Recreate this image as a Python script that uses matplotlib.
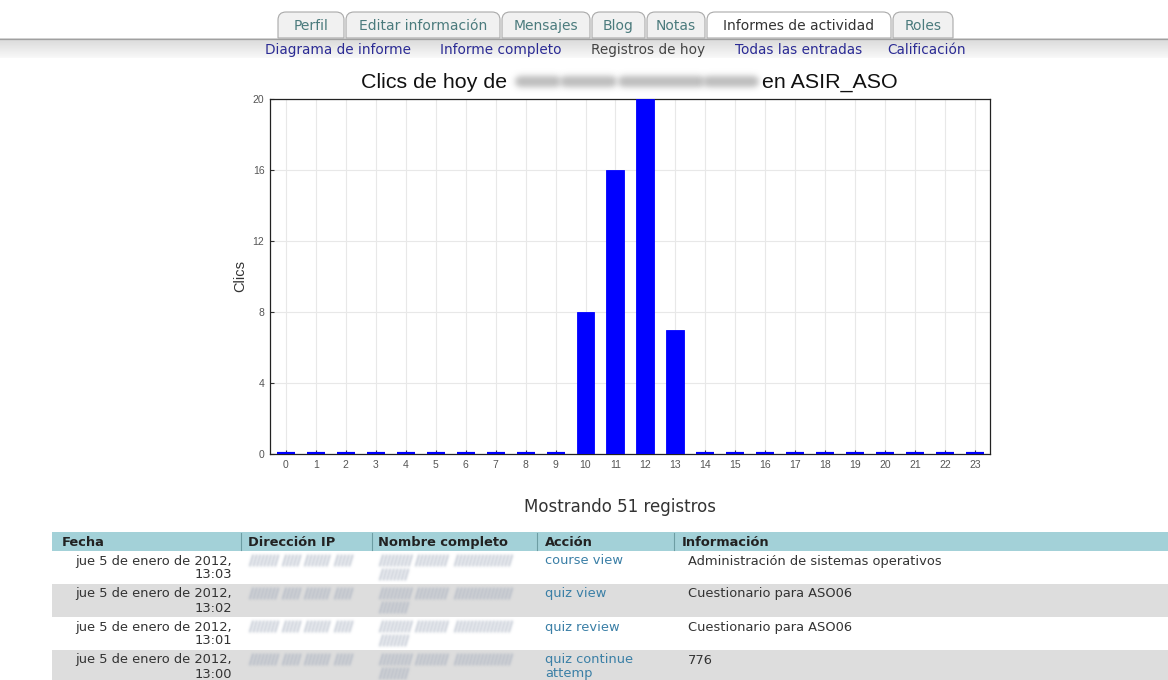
import numpy as np
import matplotlib
matplotlib.use("Agg")
import matplotlib.pyplot as plt
from matplotlib.patches import Rectangle, PathPatch
from matplotlib.path import Path

# ---------------- data ----------------
hours = list(range(24))
clicks = [0, 0, 0, 0, 0, 0, 0, 0, 0, 0, 8, 16, 20, 7, 0, 0, 0, 0, 0, 0, 0, 0, 0, 0]
y_ticks = [0, 4, 8, 12, 16, 20]
title_left = "Clics de hoy de"
title_right = "en ASIR_ASO"
y_label = "Clics"

tabs = ["Perfil", "Editar información", "Mensajes", "Blog", "Notas",
        "Informes de actividad", "Roles"]
active_tab = "Informes de actividad"
subtabs = ["Diagrama de informe", "Informe completo", "Registros de hoy",
           "Todas las entradas", "Calificación"]
current_subtab = "Registros de hoy"
summary = "Mostrando 51 registros"
columns = ["Fecha", "Dirección IP", "Nombre completo", "Acción", "Información"]
dates = ["jue 5 de enero de 2012,"] * 4
times = ["13:03", "13:02", "13:01", "13:00"]
actions = [["course view"], ["quiz view"], ["quiz review"], ["quiz continue", "attemp"]]
infos = ["Administración de sistemas operativos", "Cuestionario para ASO06",
         "Cuestionario para ASO06", "776"]

# ---------------- layout / style ----------------
W, H = 1168, 680
PAGE_FONT = "DejaVu Sans"
CHART_FONT = "Liberation Sans"

tab_x = [(278, 344), (346, 500), (502, 590), (592, 645), (647, 705), (707, 891), (893, 953)]
subtab_cx = [338, 501, 648, 799, 927]
col_sep = [241, 372, 537, 674]
col_text_x = [62, 248, 378, 545, 682]
table_x0 = 52
header_y = (532, 551)
row_tops = [551, 584, 617, 650]
row_h = 33


class Blur:
    """agg filter: gaussian blur of the alpha channel, single colour."""
    def __init__(self, sigma, color, alpha=1.0):
        self.sigma = sigma
        self.color = matplotlib.colors.to_rgb(color)
        self.alpha = alpha

    def __call__(self, im, dpi):
        pad = int(np.ceil(3 * self.sigma))
        a = np.pad(im[:, :, 3], pad)
        k = np.exp(-0.5 * (np.arange(-pad, pad + 1) / self.sigma) ** 2)
        k /= k.sum()
        a = np.apply_along_axis(lambda r: np.convolve(r, k, mode="same"), 1, a)
        a = np.apply_along_axis(lambda c: np.convolve(c, k, mode="same"), 0, a)
        out = np.zeros(a.shape + (4,))
        out[..., :3] = self.color
        out[..., 3] = np.clip(a * self.alpha, 0, 1)
        return out, -pad, -pad


fig = plt.figure(figsize=(W / 100, H / 100), dpi=100)
fig.patch.set_facecolor("white")

bg = fig.add_axes([0, 0, 1, 1], zorder=0)
bg.set_xlim(0, W)
bg.set_ylim(H, 0)
bg.axis("off")


def top_rounded(x0, x1, y0, y1, r):
    verts = [(x0, y1), (x0, y0 + r), (x0, y0), (x0 + r, y0), (x1 - r, y0),
             (x1, y0), (x1, y0 + r), (x1, y1), (x0, y1)]
    codes = [Path.MOVETO, Path.LINETO, Path.CURVE3, Path.CURVE3, Path.LINETO,
             Path.CURVE3, Path.CURVE3, Path.LINETO, Path.CLOSEPOLY]
    return Path(verts, codes)


# tabs
for name, (x0, x1) in zip(tabs, tab_x):
    act = name == active_tab
    bg.add_patch(PathPatch(top_rounded(x0, x1, 12, 38, 8),
                           facecolor="white" if act else "#f1f1f1",
                           edgecolor="#a9a9a9", lw=0.8, zorder=2))
    bg.text((x0 + x1) / 2, 30, name, ha="center", va="baseline", fontsize=10,
            family=PAGE_FONT, color="#333333" if act else "#4b7b7d", zorder=3)

# grey band under tabs
grad = np.linspace(0.85, 0.975, 40)[:, None] * np.ones((1, 2))
bg.imshow(np.dstack([grad, grad, grad]), extent=[0, W, 58, 38.5],
          aspect="auto", zorder=1, interpolation="bilinear")
bg.plot([0, W], [38.5, 38.5], color="#a0a0a0", lw=0.9, zorder=2)

for name, cx in zip(subtabs, subtab_cx):
    cur = name == current_subtab
    bg.text(cx, 54, name, ha="center", va="baseline", fontsize=9.8,
            family=PAGE_FONT, color="#444444" if cur else "#2b2b94", zorder=3)

# chart title with blurred name
bg.text(507, 88, title_left, ha="right", va="baseline", fontsize=15.4,
        family=CHART_FONT, color="#111111")
bg.text(762, 88, title_right, ha="left", va="baseline", fontsize=15.4,
        family=CHART_FONT, color="#111111")
for (a, b) in [(520, 555), (565, 611), (623, 699), (708, 753)]:
    ln, = bg.plot([a, b], [81, 81], color="#bbbbbb", lw=8, solid_capstyle="round")
    ln.set_agg_filter(Blur(3.0, "#b0b0b0", 0.85))

# ---------------- chart ----------------
ax = fig.add_axes([270 / W, 1 - 454 / H, 720 / W, 355 / H], zorder=1)
edge_w = [3.0 if v == 0 else 0.6 for v in clicks]
ax.bar(hours, clicks, width=0.6, color="#0000ff", edgecolor="#0000ff",
       linewidth=edge_w, zorder=3)
ax.set_xlim(-0.53, 23.5)
ax.set_ylim(0, 20)
ax.set_xticks(hours)
ax.set_yticks(y_ticks)
ax.grid(True, color="#e8e8e8", lw=0.8)
ax.set_axisbelow(True)
for s in ax.spines.values():
    s.set_color("#222222")
    s.set_linewidth(0.9)
ax.tick_params(direction="in", length=3, width=0.8, colors="#333333",
               labelcolor="#555555", labelsize=7.5, pad=4)
for lab in ax.get_xticklabels() + ax.get_yticklabels():
    lab.set_family(CHART_FONT)
ax.set_ylabel(y_label, fontsize=10.5, color="#333333", family=CHART_FONT)
ax.yaxis.set_label_coords(-0.031, 0.5)

# ---------------- summary + table ----------------
bg.text(620, 507, summary, ha="center", va="center", fontsize=12,
        family=PAGE_FONT, color="#333333")

bg.add_patch(Rectangle((table_x0, header_y[0]), W - table_x0, header_y[1] - header_y[0],
                       facecolor="#a3d1d8", edgecolor="none", zorder=1))
for xs in col_sep:
    bg.plot([xs, xs], [header_y[0] + 1, header_y[1] - 1], color="#6d9da3", lw=0.8, zorder=2)
for name, x in zip(columns, col_text_x):
    bg.text(x, header_y[1] - 5, name, ha="left", va="baseline",
            fontsize=9.4, fontweight="bold", family=PAGE_FONT, color="#222222", zorder=3)

ip_groups = [(250, 278), (283, 300), (305, 330), (335, 350)]
name_groups1 = [(380, 410), (416, 448), (455, 510)]
name_groups2 = [(380, 408)]


def strokes(groups, yc, color):
    for a, b in groups:
        for x in np.arange(a, b, 3.6):
            ln, = bg.plot([x, x + 3], [yc + 5, yc - 5], color=color, lw=1.3, zorder=3)
            ln.set_agg_filter(Blur(1.2, color, 0.7))


for i, top in enumerate(row_tops):
    bg.add_patch(Rectangle((table_x0, top), W - table_x0, row_h,
                           facecolor="white" if i % 2 == 0 else "#dddddd",
                           edgecolor="none", zorder=1))
    b1, b2 = top + 13.5, top + 27.5
    bg.text(232, b1, dates[i], ha="right", va="baseline", fontsize=9.4,
            family=PAGE_FONT, color="#333333", zorder=3)
    bg.text(232, b2, times[i], ha="right", va="baseline", fontsize=9.4,
            family=PAGE_FONT, color="#333333", zorder=3)
    strokes(ip_groups, top + 9.5, "#9ea8ba")
    strokes(name_groups1, top + 9.5, "#9ea8ba")
    strokes(name_groups2, top + 23.5, "#9ea8ba")
    for j, t in enumerate(actions[i]):
        bg.text(col_text_x[3], b1 + j * 14, t, ha="left", va="baseline", fontsize=9.4,
                family=PAGE_FONT, color="#3a7fa6", zorder=3)
    bg.text(688, b1, infos[i], ha="left", va="baseline", fontsize=9.4,
            family=PAGE_FONT, color="#333333", zorder=3)

fig.savefig("out.png", dpi=100, facecolor="white")
